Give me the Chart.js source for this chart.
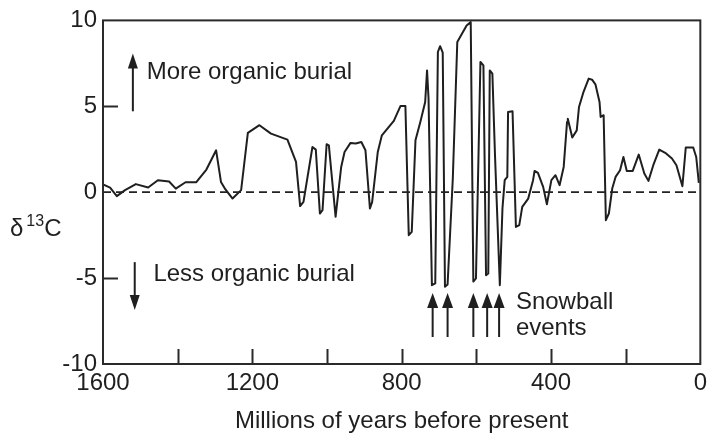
<!DOCTYPE html>
<html>
<head>
<meta charset="utf-8">
<script src="https://cdn.jsdelivr.net/npm/chart.js@4/dist/chart.umd.min.js"></script>
<style>
  html, body { margin: 0; padding: 0; background: #ffffff; }
  #wrap { width: 712px; height: 437px; }
</style>
</head>
<body>
<div id="wrap"><canvas id="c" width="712" height="437"></canvas></div>
<script>
// ---- data ----
const ages = [1600,1581,1563,1541,1512,1479,1453,1423,1405,1379,1350,1323,1297,1284,1272,1253,1230,1212,1181,1150,1106,1083,1072,1063,1039,1030,1019,1012,1001,995,977,962,953,937,923,908,897,885,879,864,853,821,803,790,781,773,763,750,737,732,728,719,710,703,697,690,684,677,663,651,626,615,608,601,589,581,574,568,564,557,550,537,530,524,517,515,503,494,485,477,461,448,444,435,421,411,399,388,377,366,357,355,343,331,325,313,299,290,281,270,267,259,253,245,236,227,215,206,197,181,165,150,139,126,110,94,76,64,48,39,19,11,4];
const d13C = [0.45,0.27,-0.23,0.12,0.47,0.27,0.70,0.62,0.21,0.58,0.58,1.32,2.44,0.6,0.16,-0.37,0.12,3.45,3.9,3.41,3.06,1.76,-0.81,-0.56,2.63,2.48,-1.24,-1.05,2.79,2.73,-1.43,1.47,2.34,2.87,2.83,2.92,2.44,-0.95,-0.56,2.34,3.31,4.15,5.02,5.02,-2.5,-2.31,3.02,4.09,5.25,7.09,5.45,-5.41,-5.31,8.16,8.5,8.12,-5.5,-5.37,0.8,8.74,9.7,9.9,-5.2,-5.02,7.58,7.38,-4.83,-4.73,7.09,6.9,2.15,-5.41,-0.95,0.7,0.89,4.67,4.71,-2.02,-1.92,-0.85,-0.37,0.7,1.24,1.12,0.31,-0.70,0.70,0.99,0.41,1.47,4.09,4.28,3.18,3.6,4.96,5.83,6.61,6.55,6.28,5.25,4.38,4.48,-1.63,-1.24,0.21,0.89,1.28,2.05,1.24,1.24,2.19,1.09,0.66,1.57,2.48,2.29,1.96,1.57,0.35,2.6,2.6,2.05,0.54];
const baselineAges = [1600, 0];
const baselineValues = [0, 0];
const snowballAges = [717, 677, 608, 571, 539];
const xTickValues = [1600, 1400, 1200, 1000, 800, 600, 400, 200, 0];
const xTickLabels = ['1600', '', '1200', '', '800', '', '400', '', '0'];
const yTickValues = [-10, -5, 0, 5, 10];
const yTickLabels = ['-10', '-5', '0', '5', '10'];

const FONT = '"Liberation Sans", Arial, Helvetica, sans-serif';
const INK = '#1f1f1f';

const mainPoints = ages.map((a, i) => ({ x: a, y: d13C[i] }));
const basePoints = baselineAges.map((a, i) => ({ x: a, y: baselineValues[i] }));

function arrow(ctx, x, y0, y1, headLen, headW) {
  // shaft from y0 to tip y1
  const dir = Math.sign(y1 - y0);
  ctx.beginPath();
  ctx.moveTo(x, y0);
  ctx.lineTo(x, y1 - dir * headLen * 0.6);
  ctx.stroke();
  ctx.beginPath();
  ctx.moveTo(x, y1);
  ctx.lineTo(x - headW / 2, y1 - dir * headLen);
  ctx.lineTo(x + headW / 2, y1 - dir * headLen);
  ctx.closePath();
  ctx.fill();
}

const decor = {
  id: 'decor',
  afterDatasetsDraw(chart) {
    const { ctx, chartArea: ca, scales: { x, y } } = chart;
    ctx.save();
    ctx.strokeStyle = '#2a2a2a';
    ctx.fillStyle = INK;
    ctx.lineWidth = 2;
    // frame
    ctx.strokeRect(ca.left, ca.top, ca.right - ca.left, ca.bottom - ca.top);
    // inside ticks
    ctx.beginPath();
    xTickValues.forEach(v => {
      if (v === 1600 || v === 0) return;
      const px = Math.round(x.getPixelForValue(v)) + 0.5;
      ctx.moveTo(px, ca.bottom);
      ctx.lineTo(px, ca.bottom - 15);
    });
    yTickValues.forEach(v => {
      if (v === 10 || v === -10 || v === 0) return;
      const py = Math.round(y.getPixelForValue(v)) + 0.5;
      ctx.moveTo(ca.left, py);
      ctx.lineTo(ca.left + 15, py);
    });
    ctx.stroke();

    // burial arrows
    ctx.lineWidth = 2;
    ctx.strokeStyle = INK;
    arrow(ctx, x.getPixelForValue(1520), y.getPixelForValue(4.71), y.getPixelForValue(8.08), 15, 10);
    arrow(ctx, x.getPixelForValue(1515), y.getPixelForValue(-4.07), y.getPixelForValue(-6.86), 15, 10);

    // snowball arrows
    snowballAges.forEach(a => {
      arrow(ctx, x.getPixelForValue(a), y.getPixelForValue(-8.43), y.getPixelForValue(-5.87), 15, 11);
    });

    // texts
    ctx.font = '24px ' + FONT;
    ctx.textBaseline = 'middle';
    ctx.textAlign = 'left';
    ctx.fillText('More organic burial', x.getPixelForValue(1483), y.getPixelForValue(7.0));
    ctx.fillText('Less organic burial', x.getPixelForValue(1465), y.getPixelForValue(-4.77));
    ctx.fillText('Snowball', x.getPixelForValue(494), y.getPixelForValue(-6.4));
    ctx.fillText('events', x.getPixelForValue(494), y.getPixelForValue(-7.9));

    // y-axis label (horizontal, with superscript)
    const ly = y.getPixelForValue(-2.15);
    let lx = 10;
    ctx.font = '24px ' + FONT;
    ctx.fillText('\u03B4', lx, ly);
    lx += ctx.measureText('\u03B4').width + 3;
    ctx.font = '16px ' + FONT;
    ctx.fillText('13', lx, ly - 8);
    lx += ctx.measureText('13').width;
    ctx.font = '24px ' + FONT;
    ctx.fillText('C', lx, ly);
    ctx.restore();
  }
};

new Chart(document.getElementById('c'), {
  type: 'line',
  data: {
    datasets: [
      {
        data: basePoints,
        borderColor: '#222222',
        borderWidth: 1.8,
        borderDash: [8, 5],
        pointRadius: 0,
        tension: 0,
        fill: false
      },
      {
        data: mainPoints,
        borderColor: INK,
        borderWidth: 2,
        borderJoinStyle: 'round',
        pointRadius: 0,
        tension: 0,
        fill: false
      }
    ]
  },
  options: {
    responsive: false,
    animation: false,
    devicePixelRatio: 1,
    layout: { padding: { top: 20, right: 10, left: 0, bottom: 0 } },
    plugins: { legend: { display: false }, tooltip: { enabled: false } },
    scales: {
      x: {
        type: 'linear',
        reverse: true,
        min: 0,
        max: 1600,
        afterBuildTicks(scale) { scale.ticks = xTickValues.map(v => ({ value: v })); },
        afterFit(scale) { scale.height = 73; },
        grid: { display: false, drawTicks: false },
        border: { display: false },
        ticks: {
          autoSkip: false,
          maxRotation: 0,
          padding: 5,
          color: INK,
          font: { family: FONT, size: 24 },
          callback(value) {
            const i = xTickValues.indexOf(value);
            return i >= 0 ? xTickLabels[i] : '';
          }
        },
        title: {
          display: true,
          text: 'Millions of years before present',
          color: INK,
          font: { family: FONT, size: 24 },
          padding: { top: 0, bottom: 1 }
        }
      },
      y: {
        type: 'linear',
        min: -10,
        max: 10,
        afterBuildTicks(scale) { scale.ticks = yTickValues.map(v => ({ value: v })); },
        afterFit(scale) { scale.width = 103; },
        grid: { display: false, drawTicks: false },
        border: { display: false },
        ticks: {
          padding: 6,
          color: INK,
          font: { family: FONT, size: 24 },
          callback(value) {
            const i = yTickValues.indexOf(value);
            return i >= 0 ? yTickLabels[i] : '';
          }
        }
      }
    }
  },
  plugins: [decor]
});
</script>
</body>
</html>
